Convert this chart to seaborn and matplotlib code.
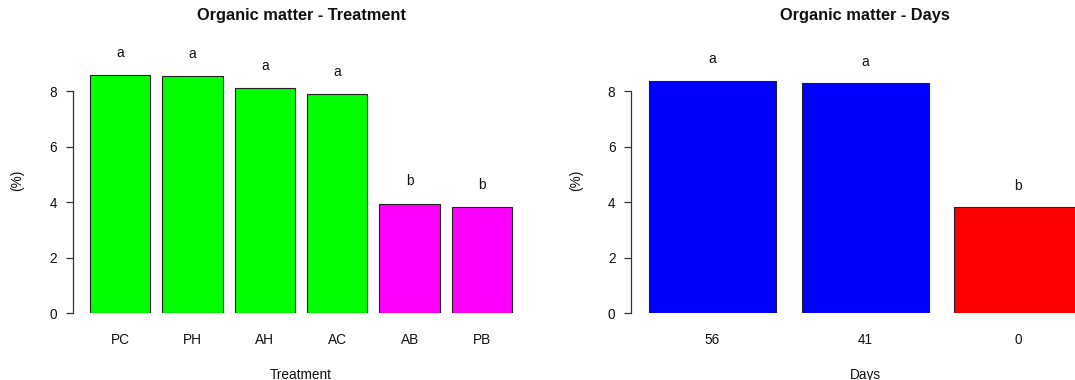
import matplotlib
matplotlib.use("Agg")
import matplotlib.pyplot as plt
import seaborn as sns
import pandas as pd

# Organic matter (%) by treatment and by sampling day, with Tukey letters
treatments = ["PC", "PH", "AH", "AC", "AB", "PB"]
treatment_values = [8.58, 8.54, 8.10, 7.90, 3.95, 3.81]
treatment_letters = ["a", "a", "a", "a", "b", "b"]
treatment_colors = ["#00FF00", "#00FF00", "#00FF00", "#00FF00", "#FF00FF", "#FF00FF"]

days = ["56", "41", "0"]
day_values = [8.38, 8.29, 3.82]
day_letters = ["a", "a", "b"]
day_colors = ["#0000FF", "#0000FF", "#FF0000"]

y_ticks = [0, 2, 4, 6, 8]

sns.set_style("white")
plt.rcParams["font.family"] = ["Liberation Sans", "DejaVu Sans"]

BASE = 9.8
TEXT = "#111111"
LINE = "#333333"

fig = plt.figure(figsize=(10.75, 3.8), dpi=100)
ax1 = fig.add_axes([0.0681, 0.1755, 0.4240, 0.698])
ax2 = fig.add_axes([0.5873, 0.1755, 0.4351, 0.698])


def panel(ax, cats, vals, letters, colors, title, xlabel, xlim, letter_gap):
    df = pd.DataFrame({"cat": cats, "val": vals})
    sns.barplot(data=df, x="cat", y="val", hue="cat", palette=colors,
                order=cats, hue_order=cats, legend=False, width=1 / 1.2,
                edgecolor="#222222", linewidth=0.8, saturation=1, ax=ax)
    for i, (v, lab) in enumerate(zip(vals, letters)):
        ax.text(i, v + letter_gap, lab, ha="center", va="center",
                fontsize=BASE, color=TEXT, clip_on=False)
    ax.set_xlim(*xlim)
    ax.set_ylim(0, 9.55)
    ax.set_yticks(y_ticks)
    ax.set_yticklabels([str(t) for t in y_ticks], fontsize=BASE, color=TEXT)
    ax.tick_params(axis="y", length=5, width=0.9, color=LINE, pad=6.5, left=True)
    ax.tick_params(axis="x", length=0, pad=14, labelsize=BASE, labelcolor=TEXT)
    for s in ("top", "right", "bottom"):
        ax.spines[s].set_visible(False)
    ax.spines["left"].set_bounds(0, 8)
    ax.spines["left"].set_color(LINE)
    ax.spines["left"].set_linewidth(0.9)
    ax.set_title(title, fontsize=BASE * 1.2, fontweight="bold", color=TEXT, pad=20)
    ax.set_xlabel(xlabel, fontsize=BASE, color=TEXT, labelpad=15)
    ax.set_ylabel("(%)", fontsize=BASE, color=TEXT, labelpad=18)
    ax.grid(False)


panel(ax1, treatments, treatment_values, treatment_letters, treatment_colors,
      "Organic matter - Treatment", "Treatment", (-0.65, 5.65), 0.80)
panel(ax2, days, day_values, day_letters, day_colors,
      "Organic matter - Days", "Days", (-0.53, 2.53), 0.76)

fig.savefig("out.png", dpi=100, facecolor="white")
